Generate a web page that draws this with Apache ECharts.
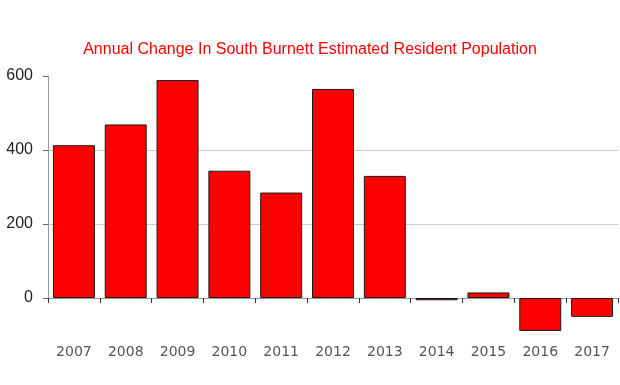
<!DOCTYPE html>
<html><head><meta charset="utf-8">
<script src="https://cdn.jsdelivr.net/npm/echarts@6/dist/echarts.min.js"></script>
<style>html,body{margin:0;padding:0;background:#fff}#c{width:620px;height:385px}</style>
</head><body><div id="c"></div>
<script>
const titleText = 'Annual Change In South Burnett Estimated Resident Population';
const categories = ['2007','2008','2009','2010','2011','2012','2013','2014','2015','2016','2017'];
const values = [413, 469, 589, 344, 285, 565, 330, -6, 15, -89, -51];
const yTicks = [0, 200, 400, 600];

const chart = echarts.init(document.getElementById('c'), null, {renderer: 'canvas'});
chart.setOption({
  animation: false,
  backgroundColor: '#fff',
  title: {
    text: titleText, left: 'center', top: 37,
    textStyle: {color: '#ff0000', fontFamily: 'Liberation Sans', fontSize: 16, fontWeight: 'normal'}
  },
  grid: {left: 48, right: 2, top: 76, bottom: 87},
  xAxis: {
    type: 'category', data: categories,
    axisLine: {onZero: true, lineStyle: {color: '#999', width: 1}},
    axisTick: {show: true, length: 5, lineStyle: {color: '#333'}},
    axisLabel: {margin: 47, color: '#555', fontFamily: 'DejaVu Sans', fontSize: 14}
  },
  yAxis: {
    type: 'value', min: yTicks[0], max: yTicks[yTicks.length - 1], interval: 200,
    axisLine: {show: true, lineStyle: {color: '#999'}},
    axisTick: {show: true, length: 5, lineStyle: {color: '#666'}},
    axisLabel: {margin: 15, color: '#222', fontFamily: 'Liberation Sans', fontSize: 16},
    splitLine: {show: true, lineStyle: {color: ['transparent', '#ccc', '#ccc', 'transparent']}}
  },
  series: [{
    type: 'bar', data: values, clip: false,
    barCategoryGap: '19%',
    itemStyle: {color: '#ff0000', borderColor: '#1a1a1a', borderWidth: 1}
  }]
});
</script></body></html>
